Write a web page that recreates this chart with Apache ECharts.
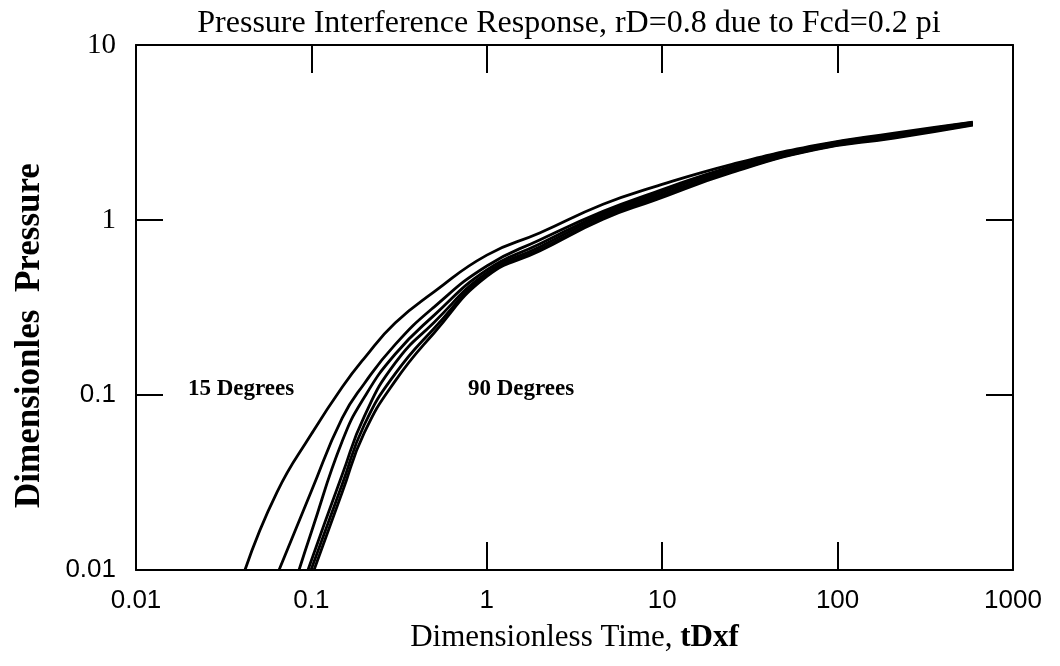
<!DOCTYPE html>
<html>
<head>
<meta charset="utf-8">
<script src="https://cdn.jsdelivr.net/npm/echarts@6/dist/echarts.min.js"></script>
<style>
html,body{margin:0;padding:0;background:#fff;}
#chart{width:1060px;height:666px;}
</style>
</head>
<body>
<div id="chart"></div>
<script>
// Tick positions / labels
const xTicks = [0.01, 0.1, 1, 10, 100, 1000];
const xTickLabels = ['0.01', '0.1', '1', '10', '100', '1000'];
const yTicks = [0.01, 0.1, 1, 10];
const yTickLabels = ['0.01', '0.1', '1', '10'];

// Curves (dimensionless time tDxf, dimensionless pressure)
const t15 = [0.0418, 0.0637, 0.1, 0.15, 0.2, 0.3, 0.5, 1, 2, 4.6, 8.9, 25, 76, 210, 590];
const p15 = [0.01, 0.0279, 0.0598, 0.111, 0.162, 0.258, 0.388, 0.63, 0.843, 1.23, 1.54, 2.08, 2.68, 3.14, 3.63];

const t30 = [0.0654, 0.1, 0.15, 0.2, 0.3, 0.5, 1, 2, 4.6, 8.9, 25, 76, 210, 590];
const p30 = [0.01, 0.0283, 0.0739, 0.116, 0.194, 0.318, 0.546, 0.769, 1.12, 1.43, 2.02, 2.65, 3.10, 3.61];

const t45 = [0.085, 0.1, 0.15, 0.2, 0.3, 0.5, 1, 2, 4.6, 8.9, 25, 76, 210, 590];
const p45 = [0.01, 0.0165, 0.0546, 0.0968, 0.171, 0.285, 0.518, 0.729, 1.09, 1.39, 1.98, 2.61, 3.04, 3.56];

const t60 = [0.0956, 0.15, 0.2, 0.3, 0.5, 1, 2, 4.6, 8.9, 25, 76, 210, 590];
const p60 = [0.01, 0.0351, 0.0753, 0.152, 0.260, 0.498, 0.701, 1.06, 1.35, 1.93, 2.58, 3.00, 3.54];

const t75 = [0.0995, 0.15, 0.2, 0.3, 0.5, 1, 2, 4.6, 8.9, 25, 76, 210, 590];
const p75 = [0.01, 0.031, 0.0674, 0.132, 0.240, 0.485, 0.678, 1.03, 1.32, 1.89, 2.55, 2.97, 3.51];

const t90 = [0.1035, 0.15, 0.2, 0.3, 0.5, 1, 2, 4.6, 8.9, 25, 76, 210, 590];
const p90 = [0.01, 0.0279, 0.0607, 0.120, 0.226, 0.476, 0.665, 1.01, 1.29, 1.87, 2.53, 2.94, 3.49];

const curves = [[t15, p15], [t30, p30], [t45, p45], [t60, p60], [t75, p75], [t90, p90]];

const chart = echarts.init(document.getElementById('chart'), null, {renderer: 'canvas'});

const axisLine = {show: true, lineStyle: {color: '#000', width: 2}};
const serif = '"Liberation Serif", "Times New Roman", serif';
const sans = '"Liberation Sans", Arial, sans-serif';

const option = {
  backgroundColor: '#fff',
  animation: false,
  grid: {left: 136, right: 47, top: 45, bottom: 96, containLabel: false},
  xAxis: [
    {
      type: 'log', logBase: 10, min: 0.01, max: 1000, position: 'bottom',
      axisLine: axisLine,
      axisTick: {show: true, inside: true, length: 28, customValues: [1, 10, 100], lineStyle: {color: '#000', width: 2}},
      minorTick: {show: false},
      splitLine: {show: false},
      axisLabel: {
        customValues: xTicks,
        formatter: v => { const i = xTicks.findIndex(x => Math.abs(Math.log10(x) - Math.log10(v)) < 1e-6); return i >= 0 ? xTickLabels[i] : ''; },
        color: '#000', fontFamily: sans, fontSize: 26, margin: 18
      },
      name: 'Dimensionless Time, {b|tDxf}',
      nameLocation: 'middle', nameGap: 52,
      nameTextStyle: {color: '#000', fontFamily: serif, fontSize: 31,
        rich: {b: {fontFamily: serif, fontSize: 31, fontWeight: 'bold', color: '#000'}}}
    },
    {
      type: 'log', logBase: 10, min: 0.01, max: 1000, position: 'top',
      axisLine: axisLine,
      axisTick: {show: true, inside: true, length: 28, customValues: [0.1, 1, 10, 100], lineStyle: {color: '#000', width: 2}},
      splitLine: {show: false},
      axisLabel: {show: false}
    }
  ],
  yAxis: [
    {
      type: 'log', logBase: 10, min: 0.01, max: 10, position: 'left',
      axisLine: axisLine,
      axisTick: {show: true, inside: true, length: 27, customValues: [0.1, 1], lineStyle: {color: '#000', width: 2}},
      splitLine: {show: false},
      axisLabel: {
        customValues: yTicks,
        formatter: v => { const i = yTicks.findIndex(x => Math.abs(Math.log10(x) - Math.log10(v)) < 1e-6); if (i < 0) return ''; return (yTicks[i] >= 1 ? '{s|' : '{a|') + yTickLabels[i] + '}'; },
        margin: 20,
        rich: {
          s: {fontFamily: serif, fontSize: 29, color: '#000'},
          a: {fontFamily: sans, fontSize: 26, color: '#000'}
        }
      },
      name: 'Dimensionles  Pressure',
      nameLocation: 'middle', nameGap: 89, nameRotate: 90,
      nameTextStyle: {color: '#000', fontFamily: serif, fontSize: 35, fontWeight: 'bold', padding: [0, 56, 0, 0]}
    },
    {
      type: 'log', logBase: 10, min: 0.01, max: 10, position: 'right',
      axisLine: axisLine,
      axisTick: {show: true, inside: true, length: 27, customValues: [0.1, 1], lineStyle: {color: '#000', width: 2}},
      splitLine: {show: false},
      axisLabel: {show: false}
    }
  ],
  graphic: [
    {type: 'text', x: 569, y: 24, style: {text: 'Pressure Interference Response, rD=0.8 due to Fcd=0.2 pi', font: '32px ' + serif, fill: '#000', textAlign: 'center', textVerticalAlign: 'middle'}},
    {type: 'text', x: 188, y: 389, style: {text: '15 Degrees', font: 'bold 23px ' + serif, fill: '#000', textAlign: 'left', textVerticalAlign: 'middle'}},
    {type: 'text', x: 468, y: 389, style: {text: '90 Degrees', font: 'bold 23px ' + serif, fill: '#000', textAlign: 'left', textVerticalAlign: 'middle'}}
  ],
  series: curves.map(([t, p]) => ({
    type: 'line', xAxisIndex: 0, yAxisIndex: 0,
    data: t.map((v, i) => [v, p[i]]),
    showSymbol: false, smooth: 0.5,
    lineStyle: {color: '#000', width: 2.8},
    clip: true, silent: true
  }))
};

chart.setOption(option);
</script>
</body>
</html>
